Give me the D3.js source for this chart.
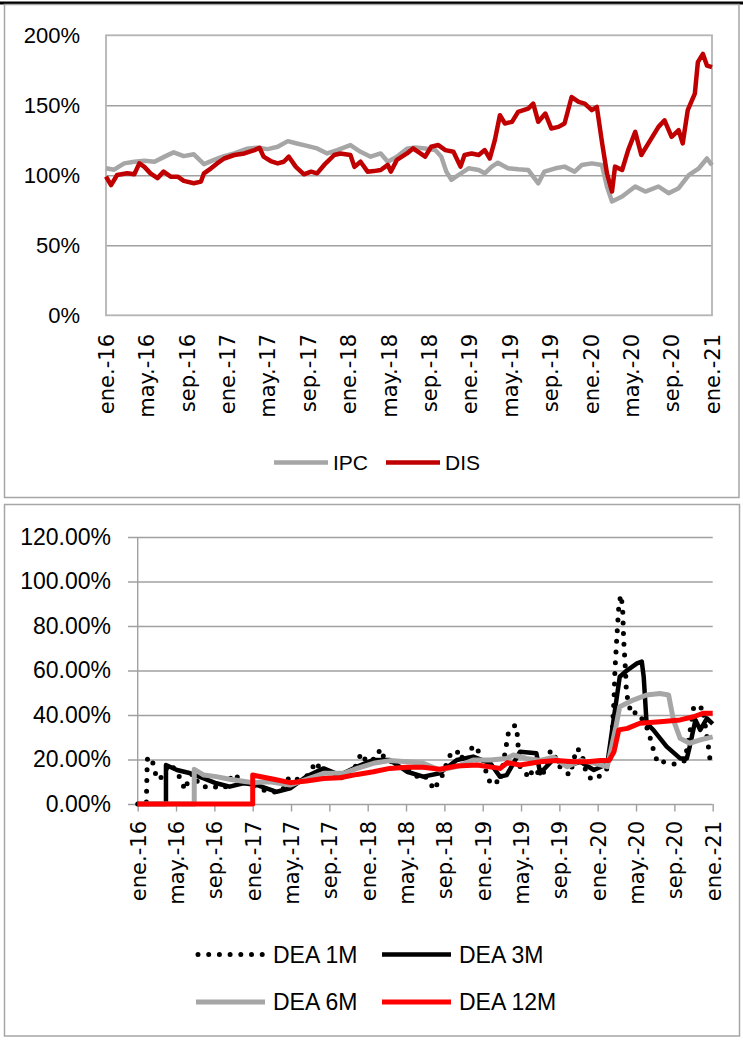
<!DOCTYPE html>
<html><head><meta charset="utf-8">
<script src="https://cdn.jsdelivr.net/npm/d3@7"></script>
<style>
body{margin:0;background:#fff;}
svg{display:block;}
</style></head><body>
<svg id="c" width="743" height="1040"></svg>
<script>
// ---------- data ----------
const xTickMonths = [0,4,8,12,16,20,24,28,32,36,40,44,48,52,56,60];
const xTickLabels = ["ene.-16","may.-16","sep.-16","ene.-17","may.-17","sep.-17","ene.-18","may.-18","sep.-18","ene.-19","may.-19","sep.-19","ene.-20","may.-20","sep.-20","ene.-21"];
const topYTicks = [0,50,100,150,200];
const botYTicks = [0,20,40,60,80,100,120];
const topSeriesNames = ["IPC","DIS"];
const botSeriesNames = ["DEA 1M","DEA 3M","DEA 6M","DEA 12M"];

// [months since ene.-16, value %]
const ipc = [[0,105],[0.8,104],[1.8,108.5],[2.8,109.7],[3.8,110.4],[4.8,109.7],[5.9,113.7],[6.7,116.4],[7.7,113.7],[8.7,115],[9.7,108],[10.7,111],[11.7,113.7],[12.7,115.6],[14,119],[15,119.7],[16,118.7],[17,120.4],[18,124.4],[18.9,122.7],[19.9,121],[20.9,119.2],[21.9,115.6],[22.9,118],[24.2,121.6],[25.2,116.8],[26.2,113.3],[27.2,115.6],[27.9,109.7],[28.8,113.3],[29.8,119],[30.6,119.9],[31.6,119.2],[32.6,118],[33.2,113.3],[33.7,102.6],[34.2,96.7],[34.9,100.2],[35.9,105],[36.9,103.8],[37.5,101.4],[38.2,106.2],[38.8,109],[39.8,105],[40.8,104.3],[41.8,103.8],[42.8,94.3],[43.4,102.6],[44.5,105],[45.4,106.2],[46.4,102.6],[47.1,107.3],[48.1,108.5],[49.1,107.3],[49.6,92],[50.1,81.3],[51.1,84.8],[52.4,92],[53.4,88.4],[54.7,92],[55.7,87.2],[56.7,90.8],[57.7,100.2],[58.7,105],[59.5,112],[60,107.3]];
const dis = [[0,99],[0.5,93],[1.1,100.2],[2.1,101.4],[2.8,100.7],[3.3,108.5],[3.8,106],[4.4,101.4],[5.1,98],[5.7,102.6],[6.4,99],[7.1,99],[7.7,96],[8.7,94.3],[9.4,95.5],[9.7,101.4],[10.4,105],[11,108.5],[11.7,112],[12.7,114.5],[13.7,115.6],[14.7,118],[15.2,119.7],[15.6,113.3],[16.3,110.2],[17,108.5],[17.6,109.7],[18.1,113.3],[18.8,106],[19.6,100.7],[20.3,102.6],[20.9,101.4],[21.6,107.4],[22.6,114.5],[23.2,115.6],[24.2,114.5],[24.6,106],[25.2,109.7],[25.9,102.6],[26.5,103],[27.2,103.8],[27.9,107.4],[28.2,102.6],[28.8,111],[29.8,115.6],[30.4,119.2],[31.6,113.3],[32.2,120.4],[32.9,121.6],[33.6,118],[34.4,116.8],[35.1,106.2],[35.5,114.5],[36.2,115.6],[36.9,114.5],[37.5,118],[38,112],[38.5,125.1],[39,142.9],[39.5,137],[40.2,138.2],[40.8,145.3],[41.8,147.6],[42.3,151.2],[42.8,138.2],[43.5,144.1],[44.1,133.4],[44.8,134.6],[45.4,137],[46.1,155.9],[46.8,152.4],[47.4,151.2],[48.1,146.5],[48.6,148.8],[49.1,124],[49.6,101.4],[50.1,88.4],[50.4,106.2],[51.1,103.8],[51.7,118],[52.4,131],[53,114.5],[53.7,122.8],[54.7,134.6],[55.3,139.3],[56,127.5],[56.7,132.2],[57.1,122.8],[57.6,146.5],[58.3,158.3],[58.6,180.8],[59.1,186.7],[59.5,178.4],[60,177.3]];

const dea1 = [[0,0],[0.9,0],[1.0,20],[1.2,21.3],[1.5,19.8],[1.9,13],[2.3,10.8],[2.8,15],[3.4,18],[3.8,16],[4.2,13.8],[4.6,9.3],[5.0,6.3],[5.3,11.7],[5.8,13.8],[6.4,8.6],[7.0,7.8],[7.6,7],[8.2,7.8],[8.9,7],[9.5,8.6],[9.8,13.4],[10.3,12.7],[10.8,9.6],[11.5,10],[12,8.6],[12.6,7.8],[13.1,6.3],[13.6,5.9],[14.2,5.5],[14.6,4.8],[15.2,7],[15.8,12],[16.4,10.8],[17,11.5],[17.6,12.3],[18.2,16],[18.6,19],[19,16],[19.6,15.3],[20.2,14.5],[20.9,10],[21.5,13],[22,12.3],[22.6,15.3],[23,20.5],[23.5,22.8],[23.8,19],[24.4,19.8],[24.9,20.5],[25.3,24.8],[25.8,19.8],[26.4,19],[27,18.3],[27.6,15.3],[28.2,16],[28.8,13.8],[29.4,11.5],[29.9,12.6],[30.4,10.8],[30.9,6.3],[31.3,9.3],[31.8,13],[32.3,19],[32.7,22.8],[33.1,22],[33.6,24.3],[34,19],[34.5,20.5],[34.8,24.8],[35.2,26.3],[35.6,23.3],[36,19.8],[36.5,12.3],[36.9,8.6],[37.5,10],[37.8,9.3],[38.7,32.5],[39.4,35.5],[39.6,31.5],[39.7,25.8],[39.9,16.8],[40.3,15.6],[40.8,11.5],[41.3,16],[42.2,12.3],[43.1,24.3],[43.4,22.8],[43.9,17.5],[44.4,15.3],[45.1,13],[45.8,25],[46.3,23.5],[46.8,13.8],[47.4,10.8],[48.1,12.3],[48.8,14.5],[49.2,18.3],[49.4,23.5],[49.7,46.7],[49.8,60.2],[50,75.2],[50.2,88.7],[50.4,94],[50.6,88.7],[50.7,74.5],[50.9,60.2],[51,49.7],[51.4,42.2],[51.7,40],[52,41.5],[52.5,39.2],[53.1,34.7],[53.6,28],[53.9,22.8],[54.3,18.3],[54.8,19],[55.4,18.3],[55.9,18],[56.6,18.3],[57.1,19.6],[57.6,31.8],[58,43],[58.5,41.5],[58.9,43.8],[59.2,36],[59.6,24.3],[59.8,16.8]];
const dea3 = [[0,0],[2.95,0],[2.95,17.5],[4.1,15.3],[5.5,13.8],[6.9,11.5],[8.2,9.3],[9.6,7.8],[11,9.3],[12.4,8.6],[14.5,5.5],[15.9,7],[17.6,12.3],[19.4,16],[21.1,13],[22.9,16.8],[24.6,19.8],[26.3,19.8],[28.1,14.5],[29.8,12.3],[31.5,13.8],[33.3,19.8],[35,21.3],[36.8,18.3],[37.8,12.3],[38.5,13],[39.9,23.5],[41.6,22.8],[42,13.8],[43.4,20.2],[44.8,17.2],[46.2,19],[47.6,15.3],[49,18],[49.7,39.2],[50.3,57.2],[51.1,60.2],[52.1,63.2],[52.6,64],[52.8,57.2],[53.1,36.3],[53.8,33.3],[55.2,25.8],[56.6,20.5],[57.3,20.5],[57.6,25.8],[58.2,37.8],[58.7,33.3],[59.4,38.5],[60,36]];
const dea6 = [[0,0],[5.9,0],[5.9,15.6],[6.9,13],[8.2,12.3],[9.6,11.1],[11,10.2],[12,9.6],[13.8,10],[15.9,8.5],[17.6,11.1],[19.4,13.8],[21.5,13.8],[22.9,16],[24.6,18.3],[26.3,19.5],[28.1,19],[29.8,18.3],[31.5,15.3],[33.3,16.8],[35,19.8],[36.8,19.8],[38.5,20.5],[39.2,22],[40.6,20.5],[42,19.6],[43.4,21],[44.8,16.8],[46.2,19.6],[47.6,18.4],[49,16.8],[49.9,34.7],[50.3,43.7],[51.7,46.7],[53.1,49],[54.5,49.7],[55.4,49],[55.9,37.8],[56.6,29.5],[57.6,27.3],[58.7,28.8],[60,30.2]];
const dea12 = [[0,0],[12,0],[12,13],[14.2,11.1],[15.9,9.6],[17.6,10.3],[19.4,11.5],[21.1,11.8],[22.9,13.3],[24.6,14.5],[26.3,16],[28.1,16.5],[29.8,16.5],[31.5,15.6],[33.3,17.1],[35.4,17.5],[37.8,16],[38.6,18.6],[39.9,17.5],[42,19],[43.7,19.6],[45.5,19],[46.9,19],[48.3,19.6],[49.2,19.6],[49.7,23.5],[50.2,33.3],[51.1,34],[52.4,36.3],[54.5,37],[56.6,37.8],[58,39.2],[59,40.8],[60,40.8]];

// ---------- drawing ----------
const svg = d3.select("#c");
const GRID = "#a0a0a0", BORDER = "#a6a6a6";
const yFont = "'Liberation Sans', Arial, sans-serif";
const xFont = "'DejaVu Sans', Verdana, sans-serif";

// top black rule
svg.append("rect").attr("x",0).attr("y",1.5).attr("width",743).attr("height",3).attr("fill","#000");
// panel frames
svg.append("rect").attr("x",4.5).attr("y",4.5).attr("width",734.5).attr("height",493).attr("fill","none").attr("stroke",BORDER).attr("stroke-width",1.5);
svg.append("rect").attr("x",4.5).attr("y",504.5).attr("width",735).attr("height",531.5).attr("fill","none").attr("stroke",BORDER).attr("stroke-width",1.5);

// ===== TOP PANEL =====
const xT = d3.scaleLinear().domain([0,60]).range([106,712]);
const yT = d3.scaleLinear().domain([0,200]).range([315.3,35.3]);
const gT = svg.append("g");

// gridlines
const gridT = gT.append("g").attr("transform","translate(106,0)")
  .call(d3.axisLeft(yT).tickValues([50,100,150]).tickSize(-606).tickFormat(""));
gridT.select(".domain").remove();
gridT.selectAll(".tick line").attr("stroke",GRID).attr("stroke-width",1.4);
// plot area frame
gT.append("rect").attr("x",xT(0)).attr("y",yT(200)).attr("width",xT(60)-xT(0)).attr("height",yT(0)-yT(200))
  .attr("fill","none").attr("stroke","#b4b4b4").attr("stroke-width",1.8);

// y labels
const yAxT = gT.append("g").attr("transform","translate(80,0)")
  .call(d3.axisLeft(yT).tickValues(topYTicks).tickSize(0).tickPadding(0).tickFormat(d=>d+"%"));
yAxT.select(".domain").remove();
yAxT.selectAll("text").attr("font-family",yFont).attr("font-size",22).attr("fill","#000");

// x labels
const xAxT = gT.append("g").attr("transform","translate(0,334)")
  .call(d3.axisBottom(xT).tickValues(xTickMonths).tickSize(0).tickPadding(0).tickFormat((d,i)=>xTickLabels[i]));
xAxT.select(".domain").remove();
xAxT.selectAll("text").attr("font-family",xFont).attr("font-size",21).attr("fill","#000")
  .attr("transform","rotate(-90)").attr("text-anchor","end").attr("x",0).attr("y",0).attr("dy","0.35em");

const lineT = d3.line().x(d=>xT(d[0])).y(d=>yT(d[1]));
gT.append("path").datum(ipc).attr("d",lineT).attr("fill","none").attr("stroke","#a6a6a6").attr("stroke-width",4.5).attr("stroke-linejoin","round");
gT.append("path").datum(dis).attr("d",lineT).attr("fill","none").attr("stroke","#c00000").attr("stroke-width",4.5).attr("stroke-linejoin","round");

// legend top
const legT = [{n:topSeriesNames[0],c:"#a6a6a6",x1:274,x2:328,tx:333},{n:topSeriesNames[1],c:"#c00000",x1:386,x2:440,tx:445}];
legT.forEach(l=>{
  gT.append("line").attr("x1",l.x1).attr("x2",l.x2).attr("y1",462.5).attr("y2",462.5).attr("stroke",l.c).attr("stroke-width",4.5);
  gT.append("text").attr("x",l.tx).attr("y",462.5).attr("dy","0.35em").attr("font-family",yFont).attr("font-size",21).text(l.n);
});

// ===== BOTTOM PANEL =====
const xB = d3.scaleLinear().domain([0,60]).range([137.7,712.7]);
const yB = d3.scaleLinear().domain([0,120]).range([804,537]);
const gB = svg.append("g");

const gridB = gB.append("g").attr("transform","translate(712.7,0)")
  .call(d3.axisLeft(yB).tickValues(botYTicks).tickSize(712.7-128).tickFormat(""));
gridB.select(".domain").remove();
gridB.selectAll(".tick line").attr("stroke",GRID).attr("stroke-width",1.4);
// y axis line
gB.append("line").attr("x1",137.7).attr("x2",137.7).attr("y1",yB(120)).attr("y2",yB(0)).attr("stroke",GRID).attr("stroke-width",1.4);
// x ticks
const xTickB = gB.append("g").attr("transform","translate(0,804)")
  .call(d3.axisBottom(xB).tickValues(xTickMonths).tickSize(7.5).tickFormat(""));
xTickB.select(".domain").remove();
xTickB.selectAll(".tick line").attr("stroke",GRID).attr("stroke-width",1.4);

const yAxB = gB.append("g").attr("transform","translate(111,0)")
  .call(d3.axisLeft(yB).tickValues(botYTicks).tickSize(0).tickPadding(0).tickFormat(d=>d.toFixed(2)+"%"));
yAxB.select(".domain").remove();
yAxB.selectAll("text").attr("font-family",yFont).attr("font-size",23).attr("fill","#000");

const xAxB = gB.append("g").attr("transform","translate(0,821)")
  .call(d3.axisBottom(xB).tickValues(xTickMonths).tickSize(0).tickPadding(0).tickFormat((d,i)=>xTickLabels[i]));
xAxB.select(".domain").remove();
xAxB.selectAll("text").attr("font-family",xFont).attr("font-size",21).attr("fill","#000")
  .attr("transform","rotate(-90)").attr("text-anchor","end").attr("x",0).attr("y",0).attr("dy","0.35em");

const lineB = d3.line().x(d=>xB(d[0])).y(d=>yB(d[1]));
const styles = [
  {data:dea1, c:"#000", w:5, dash:"0 10.7", cap:"round"},
  {data:dea3, c:"#000", w:4.5, dash:null, cap:"butt"},
  {data:dea6, c:"#a6a6a6", w:5, dash:null, cap:"butt"},
  {data:dea12, c:"#ff0000", w:5, dash:null, cap:"butt"}
];
styles.forEach(s=>{
  const p = gB.append("path").datum(s.data).attr("d",lineB).attr("fill","none").attr("stroke",s.c)
    .attr("stroke-width",s.w).attr("stroke-linejoin","round").attr("stroke-linecap",s.cap);
  if (s.dash) p.attr("stroke-dasharray",s.dash);
});

// legend bottom
const legPos = [{x1:196,x2:265,tx:273,y:954.5},{x1:382,x2:451,tx:459,y:954.5},{x1:196,x2:265,tx:273,y:1002},{x1:382,x2:451,tx:459,y:1002}];
legPos.forEach((p,i)=>{
  const s = styles[i];
  const ln = gB.append("line").attr("x1",p.x1).attr("x2",p.x2).attr("y1",p.y).attr("y2",p.y).attr("stroke",s.c)
    .attr("stroke-width",s.w).attr("stroke-linecap",s.cap);
  if (s.dash) ln.attr("stroke-dasharray",s.dash).attr("x1",p.x1+2);
  gB.append("text").attr("x",p.tx).attr("y",p.y).attr("dy","0.35em").attr("font-family",yFont).attr("font-size",23).text(botSeriesNames[i]);
});
</script>
</body></html>
